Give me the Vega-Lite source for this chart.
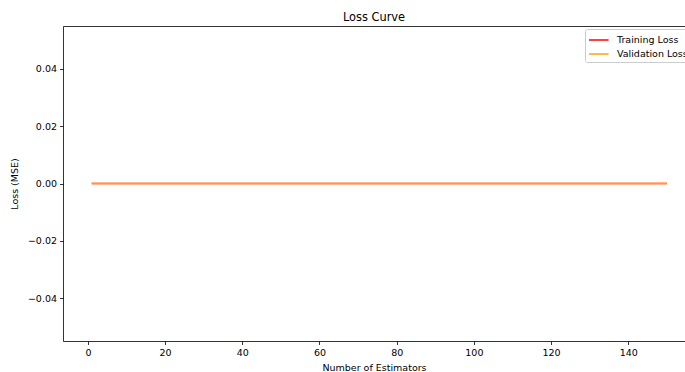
{
  "$schema": "https://vega.github.io/schema/vega-lite/v6.json",
  "autosize": {"type": "none"},
  "padding": {"left": 63, "top": 26, "right": 0, "bottom": 31},
  "width": 622,
  "height": 315,
  "background": "white",
  "title": {"text": "Loss Curve", "fontSize": 11.4, "fontWeight": "normal", "font": "DejaVu Sans", "color": "#000", "offset": 3},
  "config": {
    "view": {"stroke": null},
    "font": "DejaVu Sans",
    "axis": {
      "domainColor": "#000", "domainWidth": 0.8, "tickColor": "#000", "tickWidth": 0.8, "tickSize": 3.5,
      "labelFont": "DejaVu Sans", "labelFontSize": 9.5, "labelColor": "#000", "labelPadding": 3,
      "titleFont": "DejaVu Sans", "titleFontSize": 9.5, "titleFontWeight": "normal", "titleColor": "#000",
      "grid": false
    },
    "legend": {
      "orient": "none", "legendX": 522, "legendY": 3, "title": null,
      "strokeColor": "#cccccc", "fillColor": "rgba(255,255,255,0.8)", "cornerRadius": 2, "padding": 3,
      "symbolType": "M-1,0H1.8", "symbolSize": 196, "symbolStrokeWidth": 1.5,
      "labelFont": "DejaVu Sans", "labelFontSize": 9.5, "labelColor": "#000", "rowPadding": 1, "labelOffset": 13
    }
  },
  "data": {"values": [
    {"n":1,"train":0,"val":0},{"n":2,"train":0,"val":0},{"n":3,"train":0,"val":0},{"n":4,"train":0,"val":0},{"n":5,"train":0,"val":0},
    {"n":6,"train":0,"val":0},{"n":7,"train":0,"val":0},{"n":8,"train":0,"val":0},{"n":9,"train":0,"val":0},{"n":10,"train":0,"val":0},
    {"n":11,"train":0,"val":0},{"n":12,"train":0,"val":0},{"n":13,"train":0,"val":0},{"n":14,"train":0,"val":0},{"n":15,"train":0,"val":0},
    {"n":16,"train":0,"val":0},{"n":17,"train":0,"val":0},{"n":18,"train":0,"val":0},{"n":19,"train":0,"val":0},{"n":20,"train":0,"val":0},
    {"n":21,"train":0,"val":0},{"n":22,"train":0,"val":0},{"n":23,"train":0,"val":0},{"n":24,"train":0,"val":0},{"n":25,"train":0,"val":0},
    {"n":26,"train":0,"val":0},{"n":27,"train":0,"val":0},{"n":28,"train":0,"val":0},{"n":29,"train":0,"val":0},{"n":30,"train":0,"val":0},
    {"n":31,"train":0,"val":0},{"n":32,"train":0,"val":0},{"n":33,"train":0,"val":0},{"n":34,"train":0,"val":0},{"n":35,"train":0,"val":0},
    {"n":36,"train":0,"val":0},{"n":37,"train":0,"val":0},{"n":38,"train":0,"val":0},{"n":39,"train":0,"val":0},{"n":40,"train":0,"val":0},
    {"n":41,"train":0,"val":0},{"n":42,"train":0,"val":0},{"n":43,"train":0,"val":0},{"n":44,"train":0,"val":0},{"n":45,"train":0,"val":0},
    {"n":46,"train":0,"val":0},{"n":47,"train":0,"val":0},{"n":48,"train":0,"val":0},{"n":49,"train":0,"val":0},{"n":50,"train":0,"val":0},
    {"n":51,"train":0,"val":0},{"n":52,"train":0,"val":0},{"n":53,"train":0,"val":0},{"n":54,"train":0,"val":0},{"n":55,"train":0,"val":0},
    {"n":56,"train":0,"val":0},{"n":57,"train":0,"val":0},{"n":58,"train":0,"val":0},{"n":59,"train":0,"val":0},{"n":60,"train":0,"val":0},
    {"n":61,"train":0,"val":0},{"n":62,"train":0,"val":0},{"n":63,"train":0,"val":0},{"n":64,"train":0,"val":0},{"n":65,"train":0,"val":0},
    {"n":66,"train":0,"val":0},{"n":67,"train":0,"val":0},{"n":68,"train":0,"val":0},{"n":69,"train":0,"val":0},{"n":70,"train":0,"val":0},
    {"n":71,"train":0,"val":0},{"n":72,"train":0,"val":0},{"n":73,"train":0,"val":0},{"n":74,"train":0,"val":0},{"n":75,"train":0,"val":0},
    {"n":76,"train":0,"val":0},{"n":77,"train":0,"val":0},{"n":78,"train":0,"val":0},{"n":79,"train":0,"val":0},{"n":80,"train":0,"val":0},
    {"n":81,"train":0,"val":0},{"n":82,"train":0,"val":0},{"n":83,"train":0,"val":0},{"n":84,"train":0,"val":0},{"n":85,"train":0,"val":0},
    {"n":86,"train":0,"val":0},{"n":87,"train":0,"val":0},{"n":88,"train":0,"val":0},{"n":89,"train":0,"val":0},{"n":90,"train":0,"val":0},
    {"n":91,"train":0,"val":0},{"n":92,"train":0,"val":0},{"n":93,"train":0,"val":0},{"n":94,"train":0,"val":0},{"n":95,"train":0,"val":0},
    {"n":96,"train":0,"val":0},{"n":97,"train":0,"val":0},{"n":98,"train":0,"val":0},{"n":99,"train":0,"val":0},{"n":100,"train":0,"val":0},
    {"n":101,"train":0,"val":0},{"n":102,"train":0,"val":0},{"n":103,"train":0,"val":0},{"n":104,"train":0,"val":0},{"n":105,"train":0,"val":0},
    {"n":106,"train":0,"val":0},{"n":107,"train":0,"val":0},{"n":108,"train":0,"val":0},{"n":109,"train":0,"val":0},{"n":110,"train":0,"val":0},
    {"n":111,"train":0,"val":0},{"n":112,"train":0,"val":0},{"n":113,"train":0,"val":0},{"n":114,"train":0,"val":0},{"n":115,"train":0,"val":0},
    {"n":116,"train":0,"val":0},{"n":117,"train":0,"val":0},{"n":118,"train":0,"val":0},{"n":119,"train":0,"val":0},{"n":120,"train":0,"val":0},
    {"n":121,"train":0,"val":0},{"n":122,"train":0,"val":0},{"n":123,"train":0,"val":0},{"n":124,"train":0,"val":0},{"n":125,"train":0,"val":0},
    {"n":126,"train":0,"val":0},{"n":127,"train":0,"val":0},{"n":128,"train":0,"val":0},{"n":129,"train":0,"val":0},{"n":130,"train":0,"val":0},
    {"n":131,"train":0,"val":0},{"n":132,"train":0,"val":0},{"n":133,"train":0,"val":0},{"n":134,"train":0,"val":0},{"n":135,"train":0,"val":0},
    {"n":136,"train":0,"val":0},{"n":137,"train":0,"val":0},{"n":138,"train":0,"val":0},{"n":139,"train":0,"val":0},{"n":140,"train":0,"val":0},
    {"n":141,"train":0,"val":0},{"n":142,"train":0,"val":0},{"n":143,"train":0,"val":0},{"n":144,"train":0,"val":0},{"n":145,"train":0,"val":0},
    {"n":146,"train":0,"val":0},{"n":147,"train":0,"val":0},{"n":148,"train":0,"val":0},{"n":149,"train":0,"val":0},{"n":150,"train":0,"val":0}
  ]},
  "transform": [
    {"fold": ["train", "val"], "as": ["key", "loss"]},
    {"lookup": "key", "from": {"data": {"values": [{"key": "train", "series": "Training Loss"}, {"key": "val", "series": "Validation Loss"}]}, "key": "key", "fields": ["series"]}}
  ],
  "layer": [
    {
      "transform": [{"filter": "datum.key === 'train'"}],
      "mark": {"type": "line", "strokeWidth": 1.5, "clip": true},
      "encoding": {
        "x": {"field": "n", "type": "quantitative", "scale": {"domain": [-6.45, 154.7], "nice": false, "zero": false},
              "axis": {"title": "Number of Estimators", "values": [0, 20, 40, 60, 80, 100, 120, 140], "titlePadding": 5}},
        "y": {"field": "loss", "type": "quantitative", "scale": {"domain": [-0.055, 0.055], "nice": false},
              "axis": {"title": "Loss (MSE)", "values": [-0.04, -0.02, 0, 0.02, 0.04], "format": ".2f", "titlePadding": 8}},
        "color": {"field": "series", "type": "nominal", "scale": {"domain": ["Training Loss", "Validation Loss"], "range": ["#ff0000", "#ffa500"]}}
      }
    },
    {
      "transform": [{"filter": "datum.key === 'val'"}],
      "mark": {"type": "line", "strokeWidth": 1.5, "clip": true},
      "encoding": {
        "x": {"field": "n", "type": "quantitative", "axis": {"orient": "top", "labels": false, "ticks": false, "title": null}},
        "y": {"field": "loss", "type": "quantitative"},
        "color": {"field": "series", "type": "nominal"}
      }
    }
  ],
  "resolve": {"axis": {"x": "independent"}}
}
